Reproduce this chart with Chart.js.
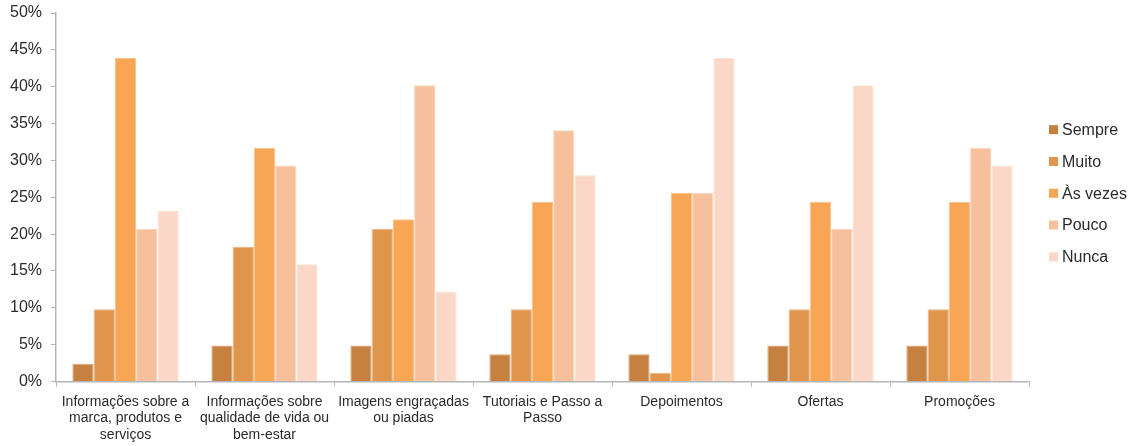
<!DOCTYPE html>
<html>
<head>
<meta charset="utf-8">
<script src="https://cdn.jsdelivr.net/npm/chart.js@4/dist/chart.umd.min.js"></script>
<style>
  html, body { margin: 0; padding: 0; background: #fff; }
  canvas { display: block; }
</style>
</head>
<body>
<canvas id="c" width="1133" height="446"></canvas>
<script>
// Content types, each label split into the lines shown under the axis
const categories = [
  ['Informações sobre a', 'marca, produtos e', 'serviços'],
  ['Informações sobre', 'qualidade de vida ou', 'bem-estar'],
  ['Imagens engraçadas', 'ou piadas'],
  ['Tutoriais e Passo a', 'Passo'],
  ['Depoimentos'],
  ['Ofertas'],
  ['Promoções']
];

// Share of answers (%) per frequency
const sempre  = [2.4, 4.9, 4.9, 3.7, 3.7, 4.9, 4.9];
const muito   = [9.8, 18.3, 20.7, 9.8, 1.2, 9.8, 9.8];
const asVezes = [43.9, 31.7, 22.0, 24.4, 25.6, 24.4, 24.4];
const pouco   = [20.7, 29.3, 40.2, 34.1, 25.6, 20.7, 31.7];
const nunca   = [23.2, 15.9, 12.2, 28.0, 43.9, 40.2, 29.3];

const seriesNames = ['Sempre', 'Muito', 'Às vezes', 'Pouco', 'Nunca'];
const seriesColors = ['#c6803f', '#df954c', '#f8a656', '#f6c09c', '#fad7c6'];
const yTicks = [0, 5, 10, 15, 20, 25, 30, 35, 40, 45, 50];

const FONT = '"Liberation Sans", Arial, sans-serif';
const TEXT = '#2b2b2b';
const AXIS = '#b5b5b5';
const seriesValues = [sempre, muito, asVezes, pouco, nunca];

// Lighter tint of a hex colour, used for the thin bar outlines
function tint(hex, t) {
  const n = parseInt(hex.slice(1), 16);
  const ch = [(n >> 16) & 255, (n >> 8) & 255, n & 255].map(c => Math.round(c + (255 - c) * t));
  return 'rgb(' + ch.join(',') + ')';
}

// Vertical legend in the right margin, centred on the plot area
const sideLegend = {
  id: 'sideLegend',
  afterDraw(chart) {
    const { ctx, chartArea } = chart;
    const items = chart.data.datasets;
    const step = 31.8;
    const box = 9;
    const x = chartArea.right + 20;
    const midY = (chartArea.top + chartArea.bottom) / 2;
    const y0 = midY - step * (items.length - 1) / 2 - 4;
    ctx.save();
    ctx.font = '16px ' + FONT;
    ctx.textBaseline = 'middle';
    ctx.textAlign = 'left';
    items.forEach((ds, i) => {
      const cy = y0 + i * step;
      ctx.fillStyle = ds.backgroundColor;
      ctx.fillRect(x, cy - box / 2, box, box);
      ctx.fillStyle = TEXT;
      ctx.fillText(ds.label, x + box + 4, cy + 1);
    });
    ctx.restore();
  }
};

new Chart(document.getElementById('c'), {
  type: 'bar',
  data: {
    labels: categories,
    datasets: seriesValues.map((vals, i) => ({
      label: seriesNames[i],
      data: vals,
      backgroundColor: seriesColors[i],
      borderColor: tint(seriesColors[i], 0.3),
      borderWidth: 1,
      categoryPercentage: 0.765,
      barPercentage: 1.0
    }))
  },
  options: {
    responsive: false,
    animation: false,
    layout: { padding: { top: 0, left: 1, right: 104, bottom: 0 } },
    scales: {
      x: {
        afterFit: (axis) => { axis.height = 64.5; },
        grid: {
          display: true,
          drawOnChartArea: false,
          offset: true,
          color: AXIS,
          tickLength: 5
        },
        border: { display: true, color: AXIS, width: 1.5 },
        ticks: {
          color: TEXT,
          font: { family: FONT, size: 14, lineHeight: 1.18 },
          padding: 7,
          maxRotation: 0,
          autoSkip: false
        }
      },
      y: {
        min: 0,
        max: 50,
        afterBuildTicks: (axis) => { axis.ticks = yTicks.map(v => ({ value: v })); },
        afterFit: (axis) => { axis.paddingTop = 13; },
        grid: {
          display: true,
          drawOnChartArea: false,
          color: AXIS,
          tickLength: 5
        },
        border: { display: true, color: AXIS, width: 1.5 },
        ticks: {
          color: TEXT,
          font: { family: FONT, size: 16 },
          padding: 9,
          callback: (v) => v + '%'
        }
      }
    },
    plugins: {
      tooltip: { enabled: false },
      legend: { display: false }
    }
  },
  plugins: [sideLegend]
});
</script>
</body>
</html>
